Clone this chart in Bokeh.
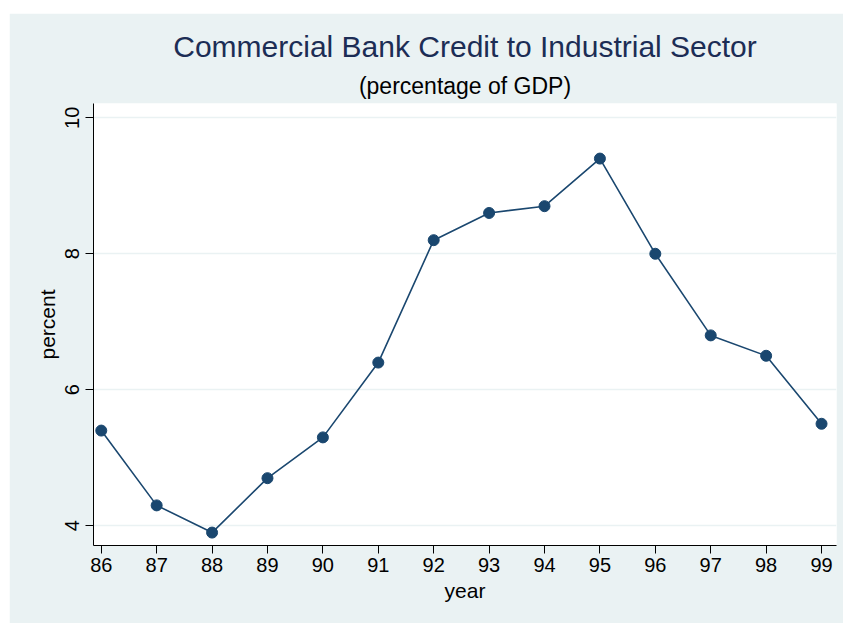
from bokeh.plotting import figure
from bokeh.models import Title, FixedTicker, Range1d
from bokeh.embed import file_html
from bokeh.resources import INLINE

years = [86, 87, 88, 89, 90, 91, 92, 93, 94, 95, 96, 97, 98, 99]
percent = [5.4, 4.3, 3.9, 4.7, 5.3, 6.4, 8.2, 8.6, 8.7, 9.4, 8.0, 6.8, 6.5, 5.5]
y_ticks = [4, 6, 8, 10]

NAVY = "#1A476F"
PANEL = "#EAF2F3"
FONT = "Liberation Sans"

p = figure(width=834, height=610, output_backend="svg", toolbar_location=None,
           x_range=Range1d(85.86, 99.27), y_range=Range1d(3.71, 10.21),
           min_border_left=84, min_border_right=7, min_border_top=90, min_border_bottom=78,
           background_fill_color="white", border_fill_color=PANEL, outline_line_color=None,
           margin=(13, 0, 0, 9))

p.title = None
sub = Title(text="(percentage of GDP)", align="center", text_font=FONT,
            text_font_size="23px", text_font_style="normal", text_color="black")
main = Title(text="Commercial Bank Credit to Industrial Sector", align="center", text_font=FONT,
             text_font_size="30px", text_font_style="normal", text_color="#1C2D55",
             standoff=6)
p.add_layout(sub, "above")
p.add_layout(main, "above")

p.line(years, percent, line_color=NAVY, line_width=1.6)
p.scatter(years, percent, size=11, fill_color=NAVY, line_color=NAVY)

p.xaxis.ticker = FixedTicker(ticks=years)
p.yaxis.ticker = FixedTicker(ticks=y_ticks)
p.xaxis.axis_label = "year"
p.yaxis.axis_label = "percent"
for ax in (p.xaxis, p.yaxis):
    ax.axis_line_color = "black"
    ax.major_tick_line_color = "black"
    ax.major_tick_out = 8
    ax.major_tick_in = 0
    ax.minor_tick_line_color = None
    ax.major_label_text_font = FONT
    ax.major_label_text_font_size = "20px"
    ax.major_label_text_color = "black"
    ax.axis_label_text_font = FONT
    ax.axis_label_text_font_size = "21px"
    ax.axis_label_text_font_style = "normal"
    ax.axis_label_text_color = "black"
p.yaxis.major_label_orientation = "vertical"
p.xaxis.major_label_standoff = 4
p.yaxis.major_label_standoff = 6
p.xaxis.axis_label_standoff = 4
p.yaxis.axis_label_standoff = 4

p.xgrid.grid_line_color = None
p.ygrid.grid_line_color = PANEL
p.ygrid.grid_line_width = 1.5

open("out.html", "w").write(file_html(p, INLINE))
